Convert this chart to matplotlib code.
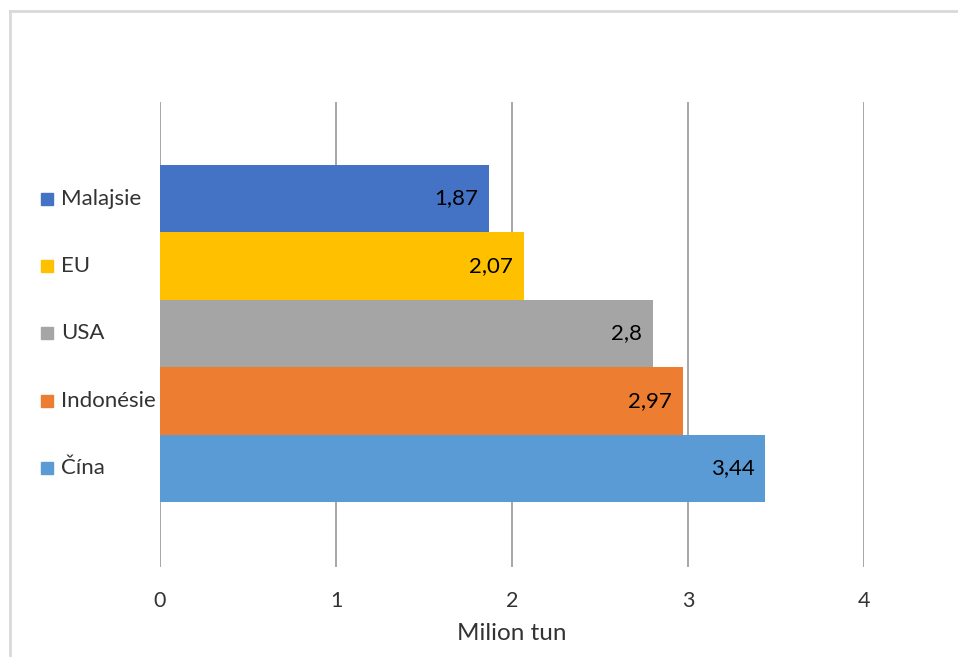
import matplotlib
matplotlib.use("Agg")
import matplotlib.pyplot as plt
from matplotlib.lines import Line2D

categories = ["Čína", "Indonésie", "USA", "EU", "Malajsie"]
values = [3.44, 2.97, 2.8, 2.07, 1.87]
labels = ["3,44", "2,97", "2,8", "2,07", "1,87"]
colors = ["#5B9BD5", "#ED7D31", "#A5A5A5", "#FFC000", "#4472C4"]
xticks = [0, 1, 2, 3, 4]
xlabel = "Milion tun"

plt.rcParams['font.family'] = ['Lato', 'DejaVu Sans']

W, H = 958, 657
fig = plt.figure(figsize=(W / 100, H / 100), dpi=100)
ax = fig.add_axes([160 / W, 1 - 567 / H, (864 - 160) / W, (567 - 102) / H])

ypos = list(range(len(categories)))
ax.barh(ypos, values, height=1.0, color=colors, zorder=3)
ax.set_xlim(0, 4)
ax.set_ylim(-0.5 - 0.96, len(categories) - 0.5 + 0.93)

ax.set_xticks(xticks)
ax.set_xticklabels([str(t) for t in xticks], fontsize=15.5, color="#333333")
ax.tick_params(axis='x', length=0, pad=17)
ax.set_yticks([])
for s in ax.spines.values():
    s.set_visible(False)
ax.grid(axis='x', color="#A6A6A6", linewidth=1.4, zorder=0)
ax.set_xlabel(xlabel, fontsize=17.5, color="#333333", labelpad=9)

for y, v, lab in zip(ypos, values, labels):
    ax.annotate(lab, xy=(v, y), xytext=(-8, 0), textcoords='offset points',
                ha='right', va='center', fontsize=16, color="#000000", zorder=4)

# legend-like labels on the left
trans = ax.get_yaxis_transform()
for y, cat, c in zip(ypos, categories, colors):
    ax.plot([(47 - 160) / (864 - 160)], [y], marker='s', markersize=8, color=c,
            transform=trans, clip_on=False, linestyle='none')
    ax.text((61 - 160) / (864 - 160), y, cat, transform=trans, ha='left', va='center',
            fontsize=16, color="#333333")

# light border (top and left)
fig.add_artist(Line2D([10 / W, 1.0], [1 - 11 / H, 1 - 11 / H], color="#D9D9D9", linewidth=2))
fig.add_artist(Line2D([10 / W, 10 / W], [0.0, 1 - 11 / H], color="#D9D9D9", linewidth=2))

fig.savefig("out.png", dpi=100, facecolor="white")
